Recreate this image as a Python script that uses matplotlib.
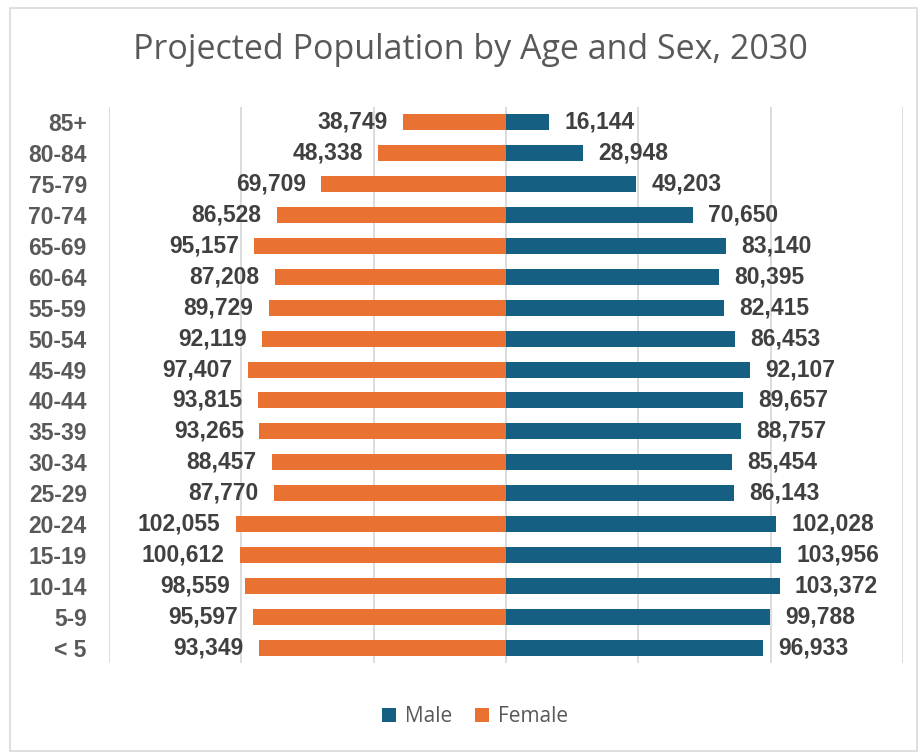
import numpy as np
import matplotlib.pyplot as plt
from matplotlib.patches import Rectangle

# ============================================
# DATOS
# ============================================

grupos = ["< 5", "5-9", "10-14", "15-19", "20-24", "25-29", "30-34",
          "35-39", "40-44", "45-49", "50-54", "55-59", "60-64",
          "65-69", "70-74", "75-79", "80-84", "85+"]

hombres = [96933, 99788, 103372, 103956, 102028, 86143, 85454,
           88757, 89657, 92107, 86453, 82415, 80395,
           83140, 70650, 49203, 28948, 16144]

mujeres = [93349, 95597, 98559, 100612, 102055, 87770, 88457,
           93265, 93815, 97407, 92119, 89729, 87208,
           95157, 86528, 69709, 48338, 38749]

c_hombre = "#156082"
c_mujer = "#E97132"

# ============================================
# FIGURA
# ============================================

fig = plt.figure(figsize=(9.22, 7.53), dpi=100)
ax = fig.add_axes([0.1182, 0.1195, 0.8612, 0.7384])

y = np.arange(len(grupos))

ax.barh(y, hombres, height=0.52, color=c_hombre, label="Male", zorder=3)
ax.barh(y, [-m for m in mujeres], height=0.52, color=c_mujer,
        label="Female", zorder=3)

# etiquetas de valores
for i in range(len(grupos)):
    ax.text(hombres[i] + 5800, y[i], f"{hombres[i]:,}",
            va="center", ha="left", fontsize=16.5, fontweight="bold",
            color="#404040", family="Liberation Sans")
    ax.text(-mujeres[i] - 5800, y[i], f"{mujeres[i]:,}",
            va="center", ha="right", fontsize=16.5, fontweight="bold",
            color="#404040", family="Liberation Sans")

ax.set_xlim(-150000, 150000)
ax.set_ylim(-0.5, len(grupos) - 0.5)
ax.set_xticks(np.arange(-150000, 150001, 50000))
ax.set_xticklabels([])
ax.tick_params(axis="x", length=0)
ax.grid(axis="x", color="#D9D9D9", lw=1.3, zorder=0)

ax.set_yticks(y)
ax.set_yticklabels(grupos, fontsize=16.5, fontweight="bold",
                   color="#595959", family="Liberation Sans")
ax.tick_params(axis="y", length=0, pad=16)

for s in ax.spines.values():
    s.set_visible(False)

fig.text(0.51, 0.933, "Projected Population by Age and Sex, 2030",
         ha="center", va="center", fontsize=24.5, color="#595959",
         family="Open Sans")

leg = fig.legend(loc="center", bbox_to_anchor=(0.515, 0.048), ncol=2,
                 frameon=False, handlelength=0.7,
                 handleheight=0.7, columnspacing=1.1, handletextpad=0.4,
                 prop={"family": "Open Sans", "size": 15})
for t in leg.get_texts():
    t.set_color("#595959")

# borde exterior
fig.patches.append(Rectangle((0.011, 0.003), 0.984, 0.986,
                             transform=fig.transFigure, fill=False,
                             edgecolor="#D9D9D9", lw=1.2))

plt.savefig("out.png", dpi=100)
